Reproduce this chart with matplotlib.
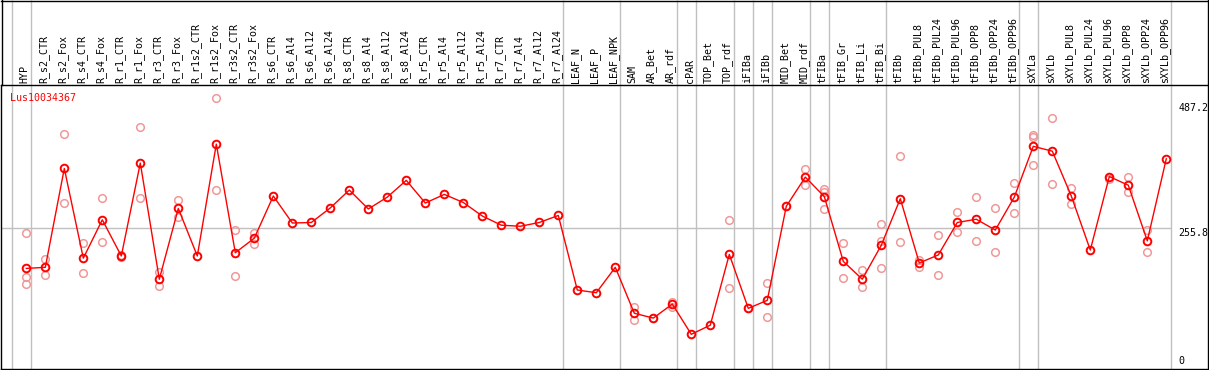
import matplotlib
matplotlib.use('Agg')
import matplotlib.pyplot as plt
from matplotlib.lines import Line2D

gene = 'Lus10034367'

samples = ['HYP', 'R_s2_CTR', 'R_s2_Fox', 'R_s4_CTR', 'R_s4_Fox', 'R_r1_CTR', 'R_r1_Fox',
           'R_r3_CTR', 'R_r3_Fox', 'R_r1s2_CTR', 'R_r1s2_Fox', 'R_r3s2_CTR', 'R_r3s2_Fox',
           'R_s6_CTR', 'R_s6_Al4', 'R_s6_Al12', 'R_s6_Al24', 'R_s8_CTR', 'R_s8_Al4',
           'R_s8_Al12', 'R_s8_Al24', 'R_r5_CTR', 'R_r5_Al4', 'R_r5_Al12', 'R_r5_Al24',
           'R_r7_CTR', 'R_r7_Al4', 'R_r7_Al12', 'R_r7_Al24', 'LEAF_N', 'LEAF_P', 'LEAF_NPK',
           'SAM', 'AR_Bet', 'AR_rdf', 'cPAR', 'TOP_Bet', 'TOP_rdf', 'iFIBa', 'iFIBb',
           'MID_Bet', 'MID_rdf', 'tFIBa', 'tFIB_Gr', 'tFIB_Li', 'tFIB_Bi', 'tFIBb',
           'tFIBb_PUL8', 'tFIBb_PUL24', 'tFIBb_PUL96', 'tFIBb_OPP8', 'tFIBb_OPP24',
           'tFIBb_OPP96', 'sXYLa', 'sXYLb', 'sXYLb_PUL8', 'sXYLb_PUL24', 'sXYLb_PUL96',
           'sXYLb_OPP8', 'sXYLb_OPP24', 'sXYLb_OPP96']

media = [181, 183, 366, 200, 271, 204, 376, 161, 292, 204, 411, 210, 237,
         315, 265, 266, 293, 326, 291, 313, 344, 302, 318, 303, 278, 261, 259, 266, 279,
         141, 136, 183, 98, 89, 115, 59, 76, 207, 107, 122, 296, 350,
         314, 194, 161, 224, 310, 191, 206, 266, 272, 252, 313,
         407, 398, 315, 215, 351, 335, 232, 384]

replicas = [[246, 165, 152], [198, 168], [429, 302], [228, 173], [311, 229], [206, 202],
            [442, 311], [174, 148], [307, 277], [], [496, 326], [252, 167], [246, 226],
            [], [], [], [], [], [], [], [], [], [], [], [], [], [], [], [],
            [], [], [], [109, 86], [90], [119, 109], [], [], [271, 144], [108], [154, 91],
            [297], [365, 335], [328, 323, 291], [228, 163], [178, 146], [263, 231, 181],
            [390, 229], [197, 184], [242, 168], [285, 248], [313, 231], [292, 211],
            [340, 283], [428, 424, 372], [459, 337], [330, 300], [], [346], [350, 322],
            [253, 211], []]

# grupos: indice da ultima amostra de cada grupo
fim_grupo = [-1, 0, 28, 31, 34, 35, 37, 38, 39, 41, 42, 45, 52, 53, 60]

y_ticks = [0, 255.8, 487.2]

plt.rcParams['font.family'] = 'DejaVu Sans Mono'
fs = 7.2

fig = plt.figure(figsize=(12.09, 3.70), dpi=100)
H = 370.0
W = 1209.0
ax = fig.add_axes([1 / W, 1 / H, 1207 / W, 284 / H])

x = list(range(len(samples)))
ax.set_xlim(-1.332, 62.195)
ax.set_ylim(-5.2, 520.5)

# linha horizontal de referencia
ax.hlines(y_ticks[1], -1.4, 60.23, color='#c0c0c0', linewidth=1, zorder=1)

# separadores verticais (atravessam o cabecalho)
topo = 369 / 284
for g in fim_grupo:
    ax.vlines(g + 0.23, 0, topo, transform=ax.get_xaxis_transform(),
              color='#c0c0c0', linewidth=1, clip_on=False, zorder=1)

# replicas
for i, reps in enumerate(replicas):
    if reps:
        ax.plot([i] * len(reps), reps, 'o', markersize=5.5, markerfacecolor='none',
                markeredgecolor='#f09898', markeredgewidth=1.1, zorder=2)

ax.plot(x, media, '-', color='red', linewidth=1, zorder=3)
ax.plot(x, media, 'o', markersize=5.5, markerfacecolor='none', markeredgecolor='red',
        markeredgewidth=1.4, zorder=4)

# rotulos das amostras
for i, s in enumerate(samples):
    ax.text(i - 0.08, (369 - 83) / 284, s, rotation=90, ha='center', va='bottom',
            fontsize=fs, transform=ax.get_xaxis_transform(), clip_on=False)

# rotulos do eixo y
for v in y_ticks:
    lab = '0' if v == 0 else str(v)
    ax.text(60.62, v, lab, ha='left', va='bottom' if v == 0 else 'top', fontsize=fs)

ax.text(9 / 1207, 1 - 8 / 284, gene, color='red', fontsize=fs, ha='left', va='top',
        transform=ax.transAxes)

ax.set_xticks([])
ax.set_yticks([])
for sp in ax.spines.values():
    sp.set_color('black')
    sp.set_linewidth(1)

# moldura do cabecalho
fig.add_artist(Line2D([1 / W, 1208 / W], [1 - 0.5 / H, 1 - 0.5 / H], color='black', linewidth=1))
fig.add_artist(Line2D([1.5 / W, 1.5 / W], [285 / H, 1], color='black', linewidth=1))
fig.add_artist(Line2D([1207.5 / W, 1207.5 / W], [285 / H, 1], color='black', linewidth=1))

fig.savefig('out.png', dpi=100)
